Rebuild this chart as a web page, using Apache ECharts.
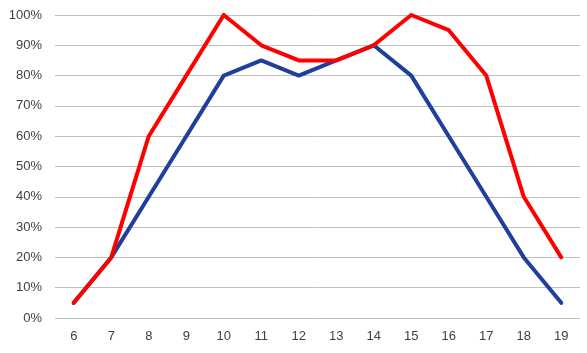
<!DOCTYPE html>
<html>
<head>
<meta charset="utf-8">
<script src="https://cdn.jsdelivr.net/npm/echarts@6/dist/echarts.min.js"></script>
<style>
  html, body { margin: 0; padding: 0; background: #fff; }
  #chart { width: 587px; height: 353px; }
</style>
</head>
<body>
<div id="chart"></div>
<script>
const categories = ['6', '7', '8', '9', '10', '11', '12', '13', '14', '15', '16', '17', '18', '19']
const blueValues = [5, 20, 40, 60, 80, 85, 80, 85, 90, 80, 60, 40, 20, 5]
const redValues = [5, 20, 60, 80, 100, 90, 85, 85, 90, 100, 95, 80, 40, 20]

const chart = echarts.init(document.getElementById('chart'))

const lineSeries = (name, data, color) => ({
  name,
  type: 'line',
  data,
  symbol: 'none',
  lineStyle: { width: 4, color, cap: 'round', join: 'round' },
  itemStyle: { color },
  animation: false,
})

chart.setOption({
  animation: false,
  grid: { left: 55, right: 7, top: 15, bottom: 35, containLabel: false },
  xAxis: {
    type: 'category',
    data: categories,
    boundaryGap: true,
    axisLine: { show: false },
    axisTick: { show: false },
    axisLabel: { color: '#404040', fontSize: 13, fontFamily: 'Liberation Sans', margin: 12 },
  },
  yAxis: {
    type: 'value',
    min: 0,
    max: 100,
    interval: 10,
    axisLine: { show: false },
    axisTick: { show: false },
    splitLine: { lineStyle: { color: '#c0c0c0', width: 1 } },
    axisLabel: {
      color: '#404040',
      fontSize: 13,
      fontFamily: 'Liberation Sans',
      margin: 13,
      formatter: '{value}%',
    },
  },
  series: [
    lineSeries('blue', blueValues, '#1f3f9c'),
    lineSeries('red', redValues, '#ff0000'),
  ],
})
</script>
</body>
</html>
